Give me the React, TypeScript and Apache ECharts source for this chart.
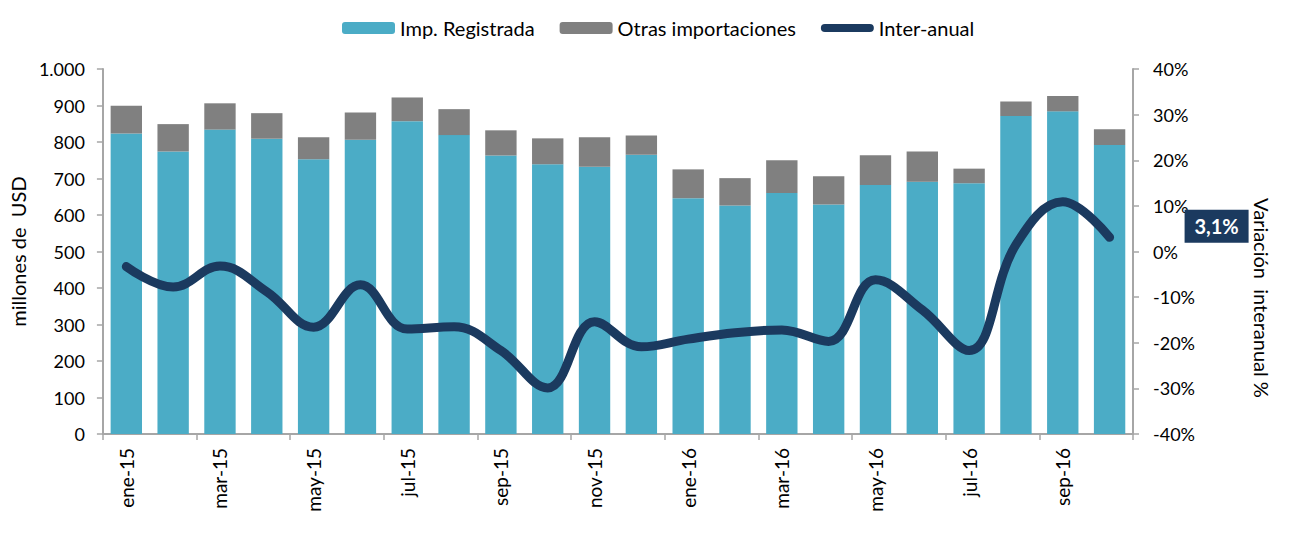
import React, { useEffect, useRef } from "react";
import * as echarts from "echarts";

const categories = [
  "ene-15", "feb-15", "mar-15", "abr-15", "may-15", "jun-15", "jul-15", "ago-15",
  "sep-15", "oct-15", "nov-15", "dic-15", "ene-16", "feb-16", "mar-16", "abr-16",
  "may-16", "jun-16", "jul-16", "ago-16", "sep-16", "oct-16",
];
const registrada = [823, 774, 834, 809, 753, 806, 857, 819, 763, 739, 732, 765, 646, 626, 660, 629, 682, 691, 687, 871, 884, 792];
const otras = [76, 75, 72, 70, 60, 75, 65, 71, 69, 71, 81, 53, 79, 75, 90, 77, 82, 83, 40, 40, 42, 43];
const interanual = [-3.3, -7.8, -3.2, -8.8, -16.6, -7.3, -17.0, -16.5, -21.7, -29.9, -15.4, -20.9, -19.2, -17.8, -17.2, -19.7, -6.2, -12.8, -21.7, 1.5, 10.9, 3.1];

const FONT = "Lato";
const AXIS_COLOR = "#A6A6A6";
const NAVY = "#1B3A5F";
const LINE_ICON = "path://M4,0L49,0A4,4,0,0,1,49,8L4,8A4,4,0,0,1,4,0Z";

const fmtThousands = (v: number) => String(v).replace(/\B(?=(\d{3})+(?!\d))/g, ".");
const fmtPct = (v: number) => v.toFixed(1).replace(".", ",") + "%";

export default function App() {
  const ref = useRef<HTMLDivElement>(null);
  useEffect(() => {
    if (!ref.current) return;
    const chart = echarts.init(ref.current, null, { renderer: "svg" });
    const last = interanual.length - 1;
    chart.setOption({
      animation: false,
      textStyle: { fontFamily: FONT },
      legend: {
        top: 13,
        left: 337,
        itemWidth: 53,
        itemHeight: 12,
        itemGap: 25,
        textStyle: { fontFamily: FONT, fontSize: 20, color: "#000" },
        data: [
          { name: "Imp. Registrada" },
          { name: "Otras importaciones" },
          { name: "Inter-anual", icon: LINE_ICON },
        ],
      },
      grid: { left: 101, right: 171, top: 69, bottom: 103 },
      xAxis: {
        type: "category",
        data: categories,
        axisLine: { lineStyle: { color: AXIS_COLOR, width: 2 } },
        axisTick: { show: true, length: 6, lineStyle: { color: AXIS_COLOR, width: 1.5 } },
        axisLabel: {
          interval: 1,
          rotate: 90,
          margin: 14,
          fontFamily: FONT,
          fontSize: 19,
          color: "#000",
        },
      },
      yAxis: [
        {
          type: "value",
          min: 0,
          max: 1000,
          interval: 100,
          name: "millones de  USD",
          nameLocation: "middle",
          nameGap: 70,
          nameTextStyle: { fontFamily: FONT, fontSize: 20, color: "#000" },
          axisLine: { show: true, lineStyle: { color: AXIS_COLOR, width: 2 } },
          axisTick: { show: true, length: 6, lineStyle: { color: AXIS_COLOR, width: 1.5 } },
          splitLine: { show: false },
          axisLabel: {
            margin: 18,
            fontFamily: FONT,
            fontSize: 18,
            color: "#000",
            formatter: (v: number) => fmtThousands(v),
          },
        },
        {
          type: "value",
          min: -40,
          max: 40,
          interval: 10,
          position: "right",
          axisLine: { show: true, lineStyle: { color: AXIS_COLOR, width: 2 } },
          axisTick: { show: true, length: 6, lineStyle: { color: AXIS_COLOR, width: 1.5 } },
          splitLine: { show: false },
          axisLabel: {
            margin: 20,
            fontFamily: FONT,
            fontSize: 18,
            color: "#000",
            formatter: "{value}%",
          },
        },
      ],
      graphic: [
        {
          type: "text",
          x: 1262,
          y: 298,
          rotation: -Math.PI / 2,
          style: {
            text: "Variación  interanual %",
            fontFamily: FONT,
            fontSize: 20,
            fill: "#000",
            textAlign: "center",
            textVerticalAlign: "middle",
          },
        },
      ],
      series: [
        {
          name: "Imp. Registrada",
          type: "bar",
          stack: "imp",
          barWidth: "67%",
          itemStyle: { color: "#4BACC6" },
          data: registrada,
        },
        {
          name: "Otras importaciones",
          type: "bar",
          stack: "imp",
          itemStyle: { color: "#808080" },
          data: otras,
        },
        {
          name: "Inter-anual",
          type: "line",
          yAxisIndex: 1,
          smooth: 0.4,
          symbol: "none",
          symbolKeepAspect: true,
          lineStyle: { color: NAVY, width: 9, cap: "round" },
          itemStyle: { color: NAVY },
          data: interanual,
          markPoint: {
            symbol: "rect",
            symbolSize: [64, 33],
            symbolOffset: [107, -11],
            itemStyle: { color: NAVY },
            label: {
              show: true,
              position: "inside",
              color: "#fff",
              fontFamily: FONT,
              fontWeight: "bold",
              fontSize: 20,
              formatter: (p: any) => fmtPct(p.value),
            },
            data: [{ coord: [last, interanual[last]], value: interanual[last] }],
          },
        },
      ],
    });
    return () => chart.dispose();
  }, []);
  return (
    <div
      ref={ref}
      style={{ position: "absolute", left: 0, top: 0, width: 1304, height: 537 }}
    />
  );
}
